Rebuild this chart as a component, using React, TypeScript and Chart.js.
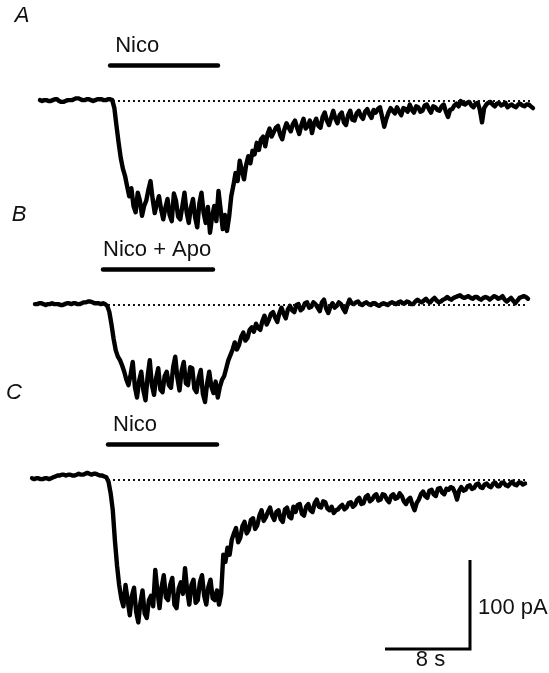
import React, { useEffect, useRef } from "react";
import { Chart, registerables } from "chart.js";

Chart.register(...registerables);

// ---- recorded currents (pA), one sample every SAMPLE_S seconds ----
const SAMPLE_S = 0.2;

const currentA = [
  1, 0, 1, 1, 0, 0, 1, 2, 2, 0, -1, -1, 0, 1, 1, 1, 2, 3, 3, 2, 1, 1, 2, 2, 1, 0, 1, 2, 2, 2, 1, 1,
  2, 2, 1, -8,
  -28, -47, -64, -76, -84, -96, -107, -98, -118, -125, -103, -112, -129, -118, -112, -100, -90, -110,
  -126, -115, -107, -122, -133, -120, -110, -128, -135, -104, -112, -130, -133, -118, -103, -125,
  -137, -120, -110, -131, -142, -115, -103, -126, -137, -119, -148, -130, -118, -135, -101, -122,
  -144, -128, -146, -130, -107, -95, -81, -90, -67, -78, -88, -72, -62, -70, -56, -60, -47, -55,
  -43, -40, -51, -38, -31, -40,
  -35, -30, -28, -38, -43, -32, -25, -30, -34, -26, -22, -30, -37, -27, -20, -31, -28, -22, -36, -25,
  -20, -28, -30, -18, -13, -22, -27, -19, -11, -20, -25, -16, -13, -24, -27, -16, -11, -21, -22, -14,
  -11, -17, -20, -12, -9, -15, -19, -10, -13, -9, -7, -18, -29, -20, -13, -8, -11, -14, -7, -12, -16,
  -8, -9, -12, -4, -10, -13, -6, -7, -12, -11, -5, -4, -9, -13, -6, -7, -10, -11, -6, -4, -12, -18,
  -10, -9, -5, -3, -6, 0, -3, -4, -2, -1, -5, -7, -3, -2, -10, -24, -8, -4, -2, -1, -4, -6, -3, -2,
  -5, -4, -2, -7, -5, -4, -6, -7, -4, -3, -5, -6, -4, -4, -6, -8,
];

const currentB = [
  1, 1, 2, 2, 1, 0, 1, 1, 2, 1, 1, 1, 0, 0, 1, 2, 2, 1, 2, 2, 1, 1, 2, 3, 3, 4, 4, 3, 2, 2, 2, 1,
  2, 1, -1, -8,
  -22, -38, -51, -58, -62, -68, -75, -84, -90, -78, -64, -92, -104, -85, -75, -96, -107, -80, -62,
  -90, -101, -82, -71, -95, -98, -80, -75, -90, -93, -70, -58, -82, -96, -74, -64, -88, -90, -70,
  -71, -94, -98, -82, -73, -100, -109, -88, -75, -92, -99, -86, -104, -92, -84, -80, -71, -62, -56,
  -50, -42, -50, -45, -36, -31, -40, -37, -28, -25, -30, -21, -26, -28, -18, -12, -22, -17, -10,
  -8, -14, -19, -9, -3, -10, -15, -5, -1, -6, -8, 0, 1, -6, -4, 2, 3, -3, -2, 3, 1, -3, -7, 3, 6,
  -4, -9, -2, 2, -3, -1, 3, 1, -4, -8, 0, 6, 2, 1, 3, 4, 1, 0, 2, 3, 1, 0, 2, 2, 0, -1, 1, 2, 1, 0,
  2, 3, 2, 1, 3, 4, 2, 2, 4, 3, 1, 1, 4, 6, 4, 3, 5, 7, 4, 3, 6, 8, 5, 3, 4, 6, 7, 9, 7, 6, 8, 9,
  10, 11, 9, 8, 9, 10, 8, 7, 9, 9, 7, 6, 8, 9, 8, 6, 8, 10, 9, 7, 8, 10, 6, 4, 6, 8, 5, 2, 5, 8, 9,
  10, 9, 7,
];

const currentC = [
  2, 1, 2, 2, 1, 1, 2, 2, 1, 2, 3, 4, 5, 5, 6, 6, 5, 6, 6, 5, 5, 6, 7, 6, 6, 7, 8, 7, 6, 7, 7, 6,
  5, 5, 4, 3,
  -2, -15, -34, -68, -96, -118, -133, -142, -118, -135, -152, -130, -121, -148, -160, -138, -124,
  -150, -155, -135, -130, -142, -101, -125, -144, -120, -107, -132, -135, -118, -110, -140, -144,
  -122, -115, -128, -99, -124, -140, -118, -112, -138, -135, -115, -107, -130, -140, -120, -112,
  -133, -135, -124, -140, -128, -84, -92, -76, -84, -67, -60, -54, -70, -65, -52, -47, -60, -56,
  -45, -43, -55, -51, -40, -34, -46, -42, -36, -31, -40,
  -45, -36, -34, -44, -47, -33, -31, -41, -43, -30, -36, -28, -27, -38, -40, -30, -27, -34, -36, -26,
  -22, -30, -31, -24, -25, -32, -34, -30, -37, -34, -33, -30, -28, -33, -31, -26, -25, -30, -28, -22,
  -20, -27, -26, -19, -17, -24, -22, -18, -16, -23, -22, -16, -17, -22, -25, -18, -16, -21, -20, -15,
  -18, -24, -27, -22, -20, -28, -34, -26, -22, -16, -13, -18, -20, -12, -11, -16, -18, -10, -9, -14,
  -16, -10, -11, -8, -9, -14, -22, -12, -8, -12, -11, -7, -6, -10, -9, -5, -4, -8, -9, -5, -4, -7,
  -8, -4, -3, -7, -7, -3, -3, -6, -7, -4, -2, -5, -6, -3, -3, -5, -4,
];

// time (s) of each trace's first sample
const traceStart = [0, -0.47, -0.75];
// drug application (s)
const drugLabels = ["Nico", "Nico + Apo", "Nico"];
const drugOn = [6.6, 5.93, 6.4];
const drugOff = [16.75, 16.28, 16.66];
// holding-current reference (dotted), s
const refFrom = [6.87, 6.4, 6.4];
const refTo = [46.4, 45.8, 45.8];
const panelLetters = ["A", "B", "C"];

// calibration bar
const CAL_S = 8;
const CAL_PA = 100;
const CAL_CORNER_S = 40.47;
const CAL_CORNER_PA = -190;

// ---- layout ----
const W = 549;
const H = 673;
const PX_PER_S = 85 / 8;
const PX_PER_PA = 0.89;
const ORIGIN_PX = 40;
const zeroPx = [101, 305, 480];
const letterPos = [
  [22, 16],
  [19, 215],
  [14, 393],
];
const drugTextInset = [5, 0, 5];
const BAR_LEVEL_PA = 40;
const INK = "#000";
const SANS = '"Liberation Sans", Arial, Helvetica, sans-serif';
const axisIds = ["yA", "yB", "yC"];

const toPoints = (t0: number, vals: number[]) =>
  vals.map((v, i) => ({ x: t0 + i * SAMPLE_S, y: v }));

const annotate = {
  id: "annotate",
  afterDatasetsDraw(chart: any) {
    const { ctx } = chart;
    const xs = chart.scales.x;
    ctx.save();
    ctx.fillStyle = "#111";
    ctx.textBaseline = "middle";

    ctx.font = `22px ${SANS}`;
    ctx.textAlign = "left";
    axisIds.forEach((id, k) => {
      const ys = chart.scales[id];
      ctx.fillText(
        drugLabels[k],
        xs.getPixelForValue(drugOn[k]) + drugTextInset[k],
        ys.getPixelForValue(BAR_LEVEL_PA) - 19
      );
    });

    ctx.font = `italic 22px ${SANS}`;
    ctx.textAlign = "center";
    panelLetters.forEach((l, k) => ctx.fillText(l, letterPos[k][0], letterPos[k][1]));

    const yc = chart.scales.yC;
    const cx = xs.getPixelForValue(CAL_CORNER_S);
    const cyBottom = yc.getPixelForValue(CAL_CORNER_PA);
    const cyTop = yc.getPixelForValue(CAL_CORNER_PA + CAL_PA);
    ctx.font = `22px ${SANS}`;
    ctx.textAlign = "left";
    ctx.fillText(`${CAL_PA} pA`, cx + 8, (cyTop + cyBottom) / 2 + 3);
    ctx.textAlign = "center";
    ctx.fillText(`${CAL_S} s`, xs.getPixelForValue(CAL_CORNER_S - CAL_S / 2) + 3, cyBottom + 11);
    ctx.restore();
  },
};

export default function App() {
  const ref = useRef<HTMLCanvasElement | null>(null);

  useEffect(() => {
    if (!ref.current) return;
    const traces = [currentA, currentB, currentC];
    const datasets: any[] = [];

    traces.forEach((vals, k) => {
      datasets.push({
        data: [
          { x: refFrom[k], y: 0 },
          { x: refTo[k], y: 0 },
        ],
        yAxisID: axisIds[k],
        borderColor: "#111",
        borderWidth: 2,
        borderDash: [2, 3],
        pointRadius: 0,
      });
      datasets.push({
        data: [
          { x: drugOn[k], y: BAR_LEVEL_PA },
          { x: drugOff[k], y: BAR_LEVEL_PA },
        ],
        yAxisID: axisIds[k],
        borderColor: INK,
        borderWidth: 4.5,
        borderCapStyle: "round",
        pointRadius: 0,
      });
      datasets.push({
        data: toPoints(traceStart[k], vals),
        yAxisID: axisIds[k],
        borderColor: INK,
        borderWidth: 4.4,
        borderJoinStyle: "round",
        borderCapStyle: "round",
        pointRadius: 0,
        tension: 0,
      });
    });

    datasets.push({
      data: [
        { x: CAL_CORNER_S - CAL_S, y: CAL_CORNER_PA },
        { x: CAL_CORNER_S, y: CAL_CORNER_PA },
        { x: CAL_CORNER_S, y: CAL_CORNER_PA + CAL_PA },
      ],
      yAxisID: "yC",
      borderColor: INK,
      borderWidth: 3,
      borderJoinStyle: "miter",
      pointRadius: 0,
    });

    const xMin = -ORIGIN_PX / PX_PER_S;
    const scales: any = {
      x: { type: "linear", display: false, min: xMin, max: xMin + W / PX_PER_S },
    };
    axisIds.forEach((id, k) => {
      const max = zeroPx[k] / PX_PER_PA;
      scales[id] = { type: "linear", display: false, min: max - H / PX_PER_PA, max };
    });

    const chart = new Chart(ref.current, {
      type: "line",
      data: { datasets },
      options: {
        animation: false,
        responsive: false,
        devicePixelRatio: 1,
        layout: { padding: 0 },
        plugins: { legend: { display: false }, tooltip: { enabled: false } },
        scales,
      },
      plugins: [annotate],
    } as any);
    return () => chart.destroy();
  }, []);

  return (
    <div style={{ position: "absolute", left: 0, top: 0, width: W, height: H, background: "#fff" }}>
      <canvas ref={ref} width={W} height={H} style={{ display: "block" }} />
    </div>
  );
}
